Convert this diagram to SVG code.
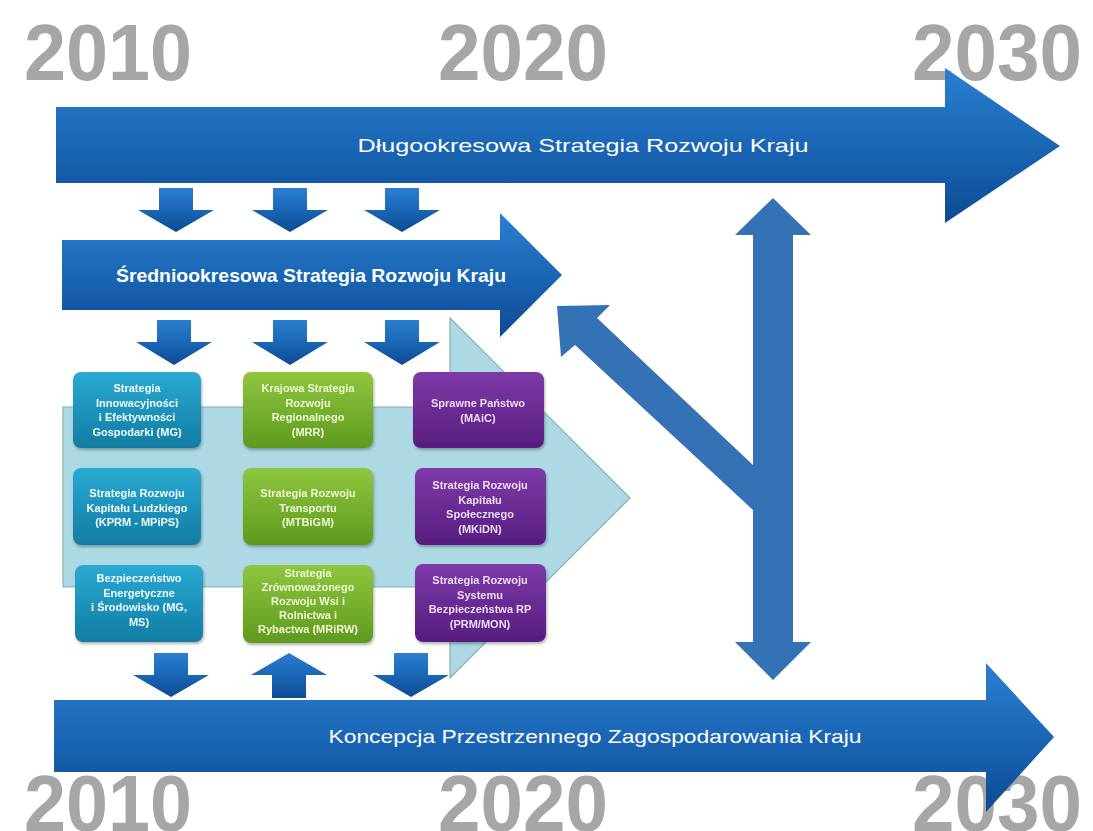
<svg xmlns="http://www.w3.org/2000/svg" width="1093" height="831" viewBox="0 0 1093 831">
<defs>
<linearGradient id="gBlue" x1="0" y1="0" x2="0" y2="1">
<stop offset="0" stop-color="#2b7fd0"/><stop offset="0.5" stop-color="#1a66b5"/><stop offset="1" stop-color="#0d4a93"/>
</linearGradient>
<linearGradient id="gTeal" x1="0" y1="0" x2="0" y2="1">
<stop offset="0" stop-color="#2aaad2"/><stop offset="1" stop-color="#117ca3"/>
</linearGradient>
<linearGradient id="gGreen" x1="0" y1="0" x2="0" y2="1">
<stop offset="0" stop-color="#8fc63e"/><stop offset="1" stop-color="#5f9a1e"/>
</linearGradient>
<linearGradient id="gPurple" x1="0" y1="0" x2="0" y2="1">
<stop offset="0" stop-color="#7e3aa8"/><stop offset="1" stop-color="#571d7e"/>
</linearGradient>
<filter id="sh" x="-10%" y="-10%" width="130%" height="130%">
<feDropShadow dx="1" dy="2" stdDeviation="1.5" flood-color="#000" flood-opacity="0.3"/>
</filter>
<style>
.yr{font-family:"Liberation Sans",Arial,sans-serif;font-weight:bold;font-size:80px;fill:#a6a6a6}
.big{fill:url(#gBlue)}
.sm{fill:url(#gBlue)}
.lt{fill:#3572b5}
.bt{font-family:"Liberation Sans",Arial,sans-serif;font-size:19px;fill:#ffffff;text-anchor:middle}
.bx{font-family:"Liberation Sans",Arial,sans-serif;font-weight:bold;font-size:11px;text-anchor:middle}
.teal rect{fill:url(#gTeal)}
.green rect{fill:url(#gGreen)}
.purple rect{fill:url(#gPurple)}
.teal text{fill:#f2fbff}
.green text{fill:#eef6d8}
.purple text{fill:#eadcf3}
</style>
</defs>
<rect width="1093" height="831" fill="#ffffff"/>

<g id="years">
<text class="yr" x="24" y="80" textLength="168" lengthAdjust="spacingAndGlyphs">2010</text>
<text class="yr" x="438" y="80" textLength="170" lengthAdjust="spacingAndGlyphs">2020</text>
<text class="yr" x="912" y="80" textLength="170" lengthAdjust="spacingAndGlyphs">2030</text>
<text class="yr" x="24" y="831" textLength="168" lengthAdjust="spacingAndGlyphs">2010</text>
<text class="yr" x="438" y="831" textLength="170" lengthAdjust="spacingAndGlyphs">2020</text>
<text class="yr" x="912" y="831" textLength="170" lengthAdjust="spacingAndGlyphs">2030</text>
</g>

<g id="background-arrow">
<polygon points="63,407 450,407 450,318 630,498 450,678 450,587 63,587" fill="#acd9e3" stroke="#8aacb5" stroke-width="1.2"/>
</g>

<g id="dlugookresowa">
<polygon class="big" points="56,107 945,107 945,68 1060,146 945,223 945,183 56,183"/>
<text class="bt" x="583" y="152" textLength="451" lengthAdjust="spacingAndGlyphs">Długookresowa Strategia  Rozwoju Kraju</text>
</g>

<g id="sredniookresowa">
<polygon class="big" points="62,240 500,240 500,213 562,275 500,337 500,310 62,310"/>
<text class="bt" x="311" y="282" font-weight="bold" textLength="390" lengthAdjust="spacingAndGlyphs">Średniookresowa Strategia Rozwoju Kraju</text>
</g>

<g id="koncepcja">
<polygon class="big" points="54,700 986,700 986,663 1054,737 986,812 986,772 54,772"/>
<text class="bt" x="595" y="743" textLength="533" lengthAdjust="spacingAndGlyphs">Koncepcja Przestrzennego Zagospodarowania Kraju</text>
</g>

<g id="connectors">
<polygon class="sm" points="159,188 193,188 193,210 214,210 176,232 138,210 159,210"/>
<polygon class="sm" points="273,188 307,188 307,210 328,210 290,232 252,210 273,210"/>
<polygon class="sm" points="385,188 419,188 419,210 440,210 402,232 364,210 385,210"/>
<polygon class="sm" points="157,320 191,320 191,342 212,342 174,365 136,342 157,342"/>
<polygon class="sm" points="273,320 307,320 307,342 328,342 290,365 252,342 273,342"/>
<polygon class="sm" points="385,320 419,320 419,342 440,342 402,365 364,342 385,342"/>
<polygon class="sm" points="154,653 188,653 188,675 209,675 171,697 133,675 154,675"/>
<polygon class="sm" points="272,698 306,698 306,675 327,675 289,653 251,675 272,675"/>
<polygon class="sm" points="394,653 428,653 428,675 449,675 411,697 373,675 394,675"/>
<polygon class="lt" points="773,198 811,235 793,235 793,642 811,642 773,680 735,642 753,642 753,235 735,235"/>
<polygon class="lt" points="557,306 610,305 597,318 753,465 753,510 575,345 561,357"/>
</g>

<g id="box1" class="teal" filter="url(#sh)">
<rect x="73" y="372" width="128" height="76" rx="8"/>
<text class="bx" x="137" y="392">Strategia</text>
<text class="bx" x="137" y="406.5">Innowacyjności</text>
<text class="bx" x="137" y="421">i Efektywności</text>
<text class="bx" x="137" y="435.5">Gospodarki (MG)</text>
</g>
<g id="box2" class="green" filter="url(#sh)">
<rect x="243" y="372" width="130" height="76" rx="8"/>
<text class="bx" x="308" y="392">Krajowa Strategia</text>
<text class="bx" x="308" y="406.5">Rozwoju</text>
<text class="bx" x="308" y="421">Regionalnego</text>
<text class="bx" x="308" y="435.5">(MRR)</text>
</g>
<g id="box3" class="purple" filter="url(#sh)">
<rect x="413" y="372" width="131" height="76" rx="8"/>
<text class="bx" x="478" y="407">Sprawne Państwo</text>
<text class="bx" x="478" y="422">(MAiC)</text>
</g>
<g id="box4" class="teal" filter="url(#sh)">
<rect x="73" y="468" width="128" height="77" rx="8"/>
<text class="bx" x="137" y="497">Strategia Rozwoju</text>
<text class="bx" x="137" y="511.5">Kapitału Ludzkiego</text>
<text class="bx" x="137" y="526">(KPRM - MPiPS)</text>
</g>
<g id="box5" class="green" filter="url(#sh)">
<rect x="243" y="468" width="130" height="77" rx="8"/>
<text class="bx" x="308" y="497">Strategia Rozwoju</text>
<text class="bx" x="308" y="511.5">Transportu</text>
<text class="bx" x="308" y="526">(MTBiGM)</text>
</g>
<g id="box6" class="purple" filter="url(#sh)">
<rect x="415" y="468" width="131" height="77" rx="8"/>
<text class="bx" x="480" y="489">Strategia Rozwoju</text>
<text class="bx" x="480" y="503.5">Kapitału</text>
<text class="bx" x="480" y="518">Społecznego</text>
<text class="bx" x="480" y="532.5">(MKiDN)</text>
</g>
<g id="box7" class="teal" filter="url(#sh)">
<rect x="75" y="565" width="128" height="77" rx="8"/>
<text class="bx" x="139" y="582">Bezpieczeństwo</text>
<text class="bx" x="139" y="596.5">Energetyczne</text>
<text class="bx" x="139" y="611">i Środowisko (MG,</text>
<text class="bx" x="139" y="625.5">MS)</text>
</g>
<g id="box8" class="green" filter="url(#sh)">
<rect x="243" y="565" width="130" height="78" rx="8"/>
<text class="bx" x="308" y="577">Strategia</text>
<text class="bx" x="308" y="591">Zrównoważonego</text>
<text class="bx" x="308" y="605">Rozwoju Wsi i</text>
<text class="bx" x="308" y="619">Rolnictwa i</text>
<text class="bx" x="308" y="633">Rybactwa (MRiRW)</text>
</g>
<g id="box9" class="purple" filter="url(#sh)">
<rect x="415" y="564" width="131" height="78" rx="8"/>
<text class="bx" x="480" y="584">Strategia Rozwoju</text>
<text class="bx" x="480" y="598.5">Systemu</text>
<text class="bx" x="480" y="613">Bezpieczeństwa RP</text>
<text class="bx" x="480" y="627.5">(PRM/MON)</text>
</g>
</svg>
